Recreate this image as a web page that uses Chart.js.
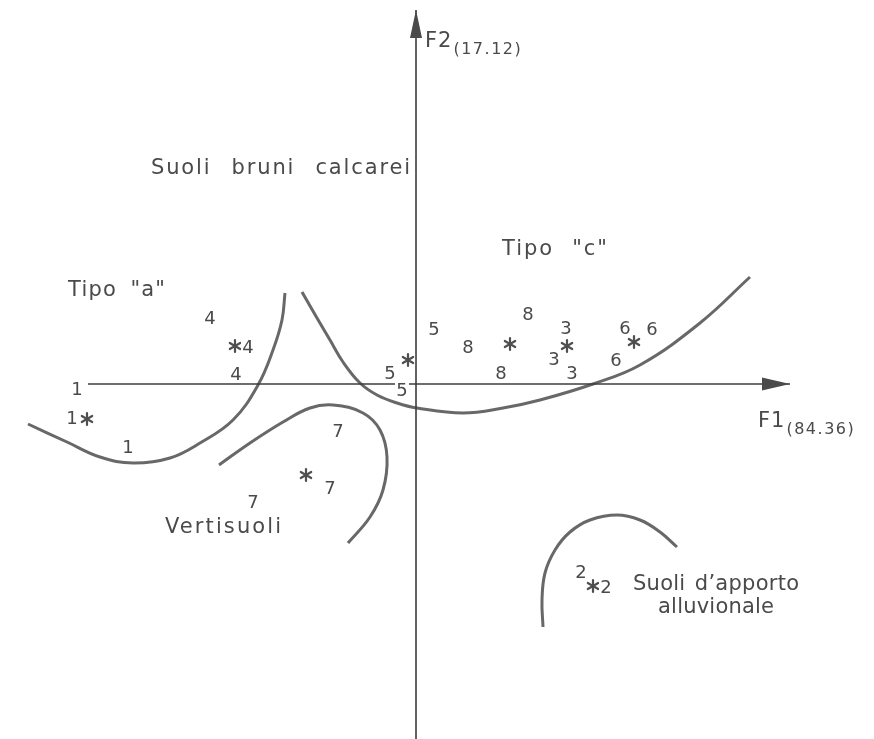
<!DOCTYPE html>
<html>
<head>
<meta charset="utf-8">
<script src="https://cdn.jsdelivr.net/npm/chart.js@4.4.1/dist/chart.umd.min.js"></script>
<style>
  html, body { margin: 0; padding: 0; background: #fff; }
  canvas { display: block; }
</style>
</head>
<body>
<canvas id="plane" width="874" height="739" style="width:874px;height:739px"></canvas>
<script>
// Factor scores of the soil profiles on F1 (84.36 %) and F2 (17.12 %),
// each profile labelled with its group number.
const obsLabels = ['1','1','1', '4','4','4', '5','5','5', '8','8','8', '3','3','3', '6','6','6', '7','7','7', '2','2'];
const obsF1 = [-3.39,-3.44,-2.88, -2.06,-1.68,-1.80, -0.26,-0.14,0.18, 0.52,1.12,0.85, 1.50,1.38,1.56, 2.09,2.36,2.00, -0.78,-0.86,-1.63, 1.65,1.90];
const obsF2 = [-0.04,-0.33,-0.62, 0.67,0.38,0.11, 0.12,-0.05,0.56, 0.38,0.71,0.12, 0.57,0.26,0.12, 0.57,0.56,0.25, -0.46,-1.03,-1.17, -1.87,-2.02];

// Group centroids (asterisks)
const centroidF1 = [-3.29, -1.81, -0.08, 0.94, 1.51, 2.18, -1.10, 1.77];
const centroidF2 = [-0.35, 0.38, 0.24, 0.40, 0.38, 0.42, -0.91, -2.02];

// Boundaries drawn around the soil types
const curveTipoA_F1 = [-3.88,-3.49,-3.16,-2.83,-2.46,-2.16,-1.83,-1.58,-1.43,-1.34,-1.31];
const curveTipoA_F2 = [-0.40,-0.58,-0.73,-0.79,-0.74,-0.59,-0.36,-0.01,0.34,0.64,0.91];
const curveTipoC_F1 = [-1.14,-0.99,-0.86,-0.73,-0.56,-0.39,-0.19,0.01,0.47,0.87,1.24,1.77,2.24,2.84,3.34];
const curveTipoC_F2 = [0.92,0.66,0.44,0.22,0.01,-0.11,-0.19,-0.24,-0.29,-0.24,-0.16,0.00,0.19,0.61,1.07];
const curveVerti_F1 = [-1.97,-1.66,-1.33,-1.06,-0.83,-0.53,-0.36,-0.29,-0.33,-0.46,-0.68];
const curveVerti_F2 = [-0.81,-0.59,-0.38,-0.24,-0.21,-0.29,-0.46,-0.73,-1.06,-1.33,-1.59];
const curveAlluv_F1 = [1.27,1.26,1.29,1.39,1.54,1.74,2.01,2.24,2.44,2.61];
const curveAlluv_F2 = [-2.43,-2.16,-1.89,-1.66,-1.48,-1.36,-1.31,-1.36,-1.48,-1.63];

// Extent of the two factor axes
const axisF1 = [-3.28, 3.74];
const axisF2 = [-3.55, 3.74];
const axisTitles = { F1: ['F1', '(84.36)'], F2: ['F2', '(17.12)'] };

// Area names
const notes = [
  { text: 'Suoli bruni calcarei', f1: -1.355, f2: 2.15 },
  { text: 'Tipo "c"',             f1: 1.385,  f2: 1.34 },
  { text: 'Tipo "a"',             f1: -2.995, f2: 0.93 },
  { text: 'Vertisuoli',           f1: -1.93,  f2: -1.44 },
  { text: 'Suoli d\u2019apporto', f1: 3.00,   f2: -2.01 },
  { text: 'alluvionale',          f1: 3.00,   f2: -2.24 }
];
// printed width of each area name, in pixels
const noteWidths = [259, 105, 97, 116, 166, 116];

const zip = (xs, ys) => xs.map((x, i) => ({ x, y: ys[i] }));

const INK = '#4a4a4a';
const CURVE = '#686868';
const FONT = '"DejaVu Sans", sans-serif';

// six-armed asterisk used as the centroid marker
function asteriskMarker(r, color) {
  const c = document.createElement('canvas');
  const s = Math.ceil(r * 2 + 4);
  c.width = s; c.height = s;
  const g = c.getContext('2d');
  g.strokeStyle = color; g.lineWidth = 2.2; g.lineCap = 'round';
  for (let k = 0; k < 3; k++) {
    const a = Math.PI / 2 + k * Math.PI / 3;
    g.beginPath();
    g.moveTo(s / 2 - r * Math.cos(a), s / 2 - r * Math.sin(a));
    g.lineTo(s / 2 + r * Math.cos(a), s / 2 + r * Math.sin(a));
    g.stroke();
  }
  return c;
}

const curveStyle = { showLine: true, tension: 0.4, pointRadius: 0, borderColor: CURVE, borderWidth: 3, fill: false };
const axisStyle = { showLine: true, tension: 0, pointRadius: 0, borderColor: '#3c3c3c', borderWidth: 1.6, fill: false };

// text spread to a given width, centred on (cx, cy): part of the extra room
// goes to the letters, the rest widens the gaps between words
function spacedText(ctx, text, cx, cy, width) {
  const gaps = (text.match(/ /g) || []).length;
  const letters = Math.max(1, text.length - 1);
  ctx.letterSpacing = '0px';
  ctx.wordSpacing = '0px';
  const w0 = ctx.measureText(text).width;
  const extra = width - w0;
  let ls, ws = 0;
  if (gaps > 0) {
    ls = 0.6 * extra / letters;
    ws = (extra - ls * letters) / gaps;
  } else {
    ls = extra / letters;
  }
  ctx.letterSpacing = ls + 'px';
  ctx.wordSpacing = ws + 'px';
  ctx.textAlign = 'left';
  ctx.fillText(text, cx - width / 2, cy);
  ctx.letterSpacing = '0px';
  ctx.wordSpacing = '0px';
}

// arrow heads, number labels, axis titles and area names
const decorations = {
  id: 'decorations',
  afterDatasetsDraw(chart) {
    const { ctx, scales: { x, y } } = chart;
    ctx.save();

    // arrow heads at the positive ends of both axes
    ctx.fillStyle = '#4a4a4a';
    const hx = x.getPixelForValue(axisF1[1]), hy = y.getPixelForValue(0);
    ctx.beginPath();
    ctx.moveTo(hx, hy); ctx.lineTo(hx - 28, hy - 6.5); ctx.lineTo(hx - 28, hy + 6.5); ctx.closePath(); ctx.fill();
    const vx = x.getPixelForValue(0), vy = y.getPixelForValue(axisF2[1]);
    ctx.beginPath();
    ctx.moveTo(vx, vy); ctx.lineTo(vx - 6, vy + 28); ctx.lineTo(vx + 6, vy + 28); ctx.closePath(); ctx.fill();

    // profile numbers
    const meta = chart.getDatasetMeta(chart.data.datasets.findIndex(d => d.id === 'obs'));
    ctx.font = '18px ' + FONT;
    ctx.textAlign = 'center';
    ctx.textBaseline = 'alphabetic';
    meta.data.forEach((pt, i) => {
      const px = pt.x, py = pt.y;
      ctx.fillStyle = '#fff';
      ctx.fillRect(px - 7, py - 9, 14, 18);
      ctx.fillStyle = INK;
      ctx.fillText(obsLabels[i], px, py + 6.5);
    });

    // axis titles with subscripted inertia
    ctx.textAlign = 'left';
    ctx.fillStyle = INK;
    const title = (main, sub, left, base) => {
      ctx.font = '21px ' + FONT;
      ctx.letterSpacing = '1px';
      ctx.fillText(main, left, base);
      const w = ctx.measureText(main).width;
      ctx.font = '16px ' + FONT;
      ctx.letterSpacing = '1.5px';
      ctx.fillText(sub, left + w + 1, base + 7);
      ctx.letterSpacing = '0px';
    };
    title(axisTitles.F1[0], axisTitles.F1[1], hx - 32, hy + 43);
    title(axisTitles.F2[0], axisTitles.F2[1], vx + 9, vy + 37);

    // area names
    ctx.font = '21px ' + FONT;
    ctx.textBaseline = 'middle';
    notes.forEach((n, i) => {
      spacedText(ctx, n.text, x.getPixelForValue(n.f1), y.getPixelForValue(n.f2), noteWidths[i]);
    });
    ctx.restore();
  }
};

new Chart(document.getElementById('plane'), {
  type: 'scatter',
  data: {
    datasets: [
      { ...axisStyle, data: [{ x: axisF1[0], y: 0 }, { x: axisF1[1], y: 0 }] },
      { ...axisStyle, data: [{ x: 0, y: axisF2[0] }, { x: 0, y: axisF2[1] }] },
      { ...curveStyle, data: zip(curveTipoA_F1, curveTipoA_F2) },
      { ...curveStyle, data: zip(curveTipoC_F1, curveTipoC_F2) },
      { ...curveStyle, data: zip(curveVerti_F1, curveVerti_F2) },
      { ...curveStyle, data: zip(curveAlluv_F1, curveAlluv_F2) },
      { id: 'obs', data: zip(obsF1, obsF2), pointRadius: 0, pointHoverRadius: 0 },
      { data: zip(centroidF1, centroidF2), pointStyle: asteriskMarker(6, '#4f4f4f'), pointRadius: 7, pointHoverRadius: 7 }
    ]
  },
  options: {
    responsive: false,
    animation: false,
    events: [],
    layout: { padding: 0, autoPadding: false },
    plugins: { legend: { display: false }, tooltip: { enabled: false } },
    scales: {
      x: { type: 'linear', display: false, min: -4.16, max: 4.58 },
      y: { type: 'linear', display: false, min: -3.55, max: 3.84 }
    }
  },
  plugins: [decorations]
});
</script>
</body>
</html>
